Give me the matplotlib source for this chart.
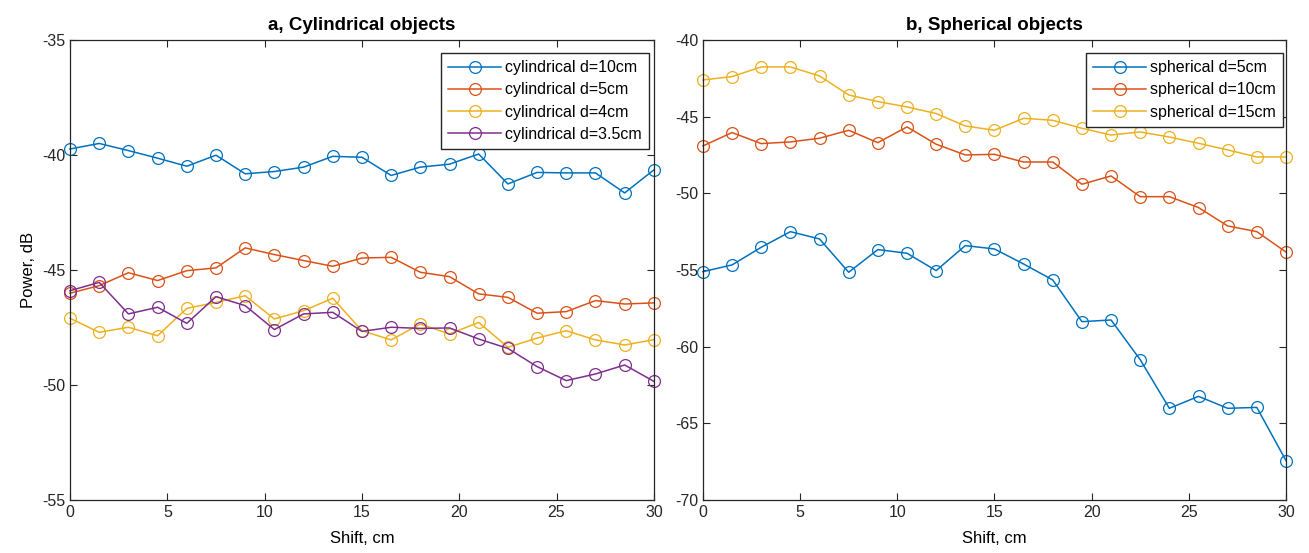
import matplotlib.pyplot as plt

plt.rcParams['font.family'] = ['Liberation Sans', 'DejaVu Sans']
plt.rcParams['axes.unicode_minus'] = False

shift = [0, 1.5, 3, 4.5, 6, 7.5, 9, 10.5, 12, 13.5, 15, 16.5, 18, 19.5, 21,
         22.5, 24, 25.5, 27, 28.5, 30]

# a, cylindrical objects
cyl_10 = [-39.74, -39.50, -39.81, -40.14, -40.49, -40.01, -40.82, -40.72, -40.53, -40.06,
          -40.10, -40.89, -40.53, -40.40, -39.96, -41.26, -40.76, -40.78, -40.78, -41.65, -40.65]
cyl_5 = [-46.01, -45.68, -45.12, -45.46, -45.03, -44.91, -44.04, -44.33, -44.59, -44.84,
         -44.48, -44.45, -45.10, -45.29, -46.04, -46.19, -46.88, -46.81, -46.33, -46.48, -46.43]
cyl_4 = [-47.10, -47.71, -47.49, -47.86, -46.67, -46.41, -46.12, -47.13, -46.77, -46.23,
         -47.64, -48.04, -47.35, -47.78, -47.28, -48.36, -47.96, -47.64, -48.04, -48.26, -48.03]
cyl_35 = [-45.90, -45.54, -46.91, -46.62, -47.32, -46.16, -46.55, -47.59, -46.91, -46.84,
          -47.67, -47.49, -47.54, -47.52, -48.00, -48.41, -49.20, -49.81, -49.52, -49.13, -49.84]

# b, spherical objects
sph_5 = [-55.11, -54.67, -53.52, -52.50, -52.98, -55.15, -53.67, -53.91, -55.04, -53.41,
         -53.63, -54.61, -55.65, -58.37, -58.26, -60.85, -64.02, -63.24, -64.02, -63.96, -67.43]
sph_10 = [-46.91, -46.04, -46.76, -46.65, -46.41, -45.89, -46.70, -45.67, -46.80, -47.50,
          -47.46, -47.96, -47.96, -49.41, -48.87, -50.22, -50.22, -50.93, -52.13, -52.50, -53.83]
sph_15 = [-42.61, -42.39, -41.76, -41.76, -42.35, -43.59, -44.02, -44.37, -44.80, -45.61,
          -45.89, -45.11, -45.24, -45.76, -46.20, -46.00, -46.33, -46.74, -47.17, -47.63, -47.63]

colors = ['#0072BD', '#D95319', '#EDB120', '#7E2F8E']
axcol = '#262626'

fig = plt.figure(figsize=(13.09, 5.53), dpi=100)
ax1 = fig.add_axes([0.0535, 0.0958, 0.446, 0.832])
ax2 = fig.add_axes([0.537, 0.0958, 0.4454, 0.832])

style = dict(marker='o', markerfacecolor='none', markersize=8.5, linewidth=1.1,
             markeredgewidth=0.9, clip_on=False)

ax1.plot(shift, cyl_10, color=colors[0], label='cylindrical d=10cm', **style)
ax1.plot(shift, cyl_5, color=colors[1], label='cylindrical d=5cm', **style)
ax1.plot(shift, cyl_4, color=colors[2], label='cylindrical d=4cm', **style)
ax1.plot(shift, cyl_35, color=colors[3], label='cylindrical d=3.5cm', **style)
ax1.set_ylim(-55, -35)
ax1.set_yticks([-55, -50, -45, -40, -35])
ax1.set_title('a, Cylindrical objects', fontweight='bold', fontsize=13.5, pad=7)
ax1.set_ylabel('Power, dB', fontsize=12, labelpad=4)

ax2.plot(shift, sph_5, color=colors[0], label='spherical d=5cm', **style)
ax2.plot(shift, sph_10, color=colors[1], label='spherical d=10cm', **style)
ax2.plot(shift, sph_15, color=colors[2], label='spherical d=15cm', **style)
ax2.set_ylim(-70, -40)
ax2.set_yticks([-70, -65, -60, -55, -50, -45, -40])
ax2.set_title('b, Spherical objects', fontweight='bold', fontsize=13.5, pad=7)

anchors = {ax1: (0.9914, 0.9717), ax2: (0.9949, 0.9717)}
for ax in (ax1, ax2):
    ax.set_xlim(0, 30)
    ax.set_xticks([0, 5, 10, 15, 20, 25, 30])
    ax.set_xlabel('Shift, cm', fontsize=12, labelpad=8)
    ax.tick_params(direction='in', top=True, right=True, labelsize=11.5, colors=axcol, length=5)
    for s in ax.spines.values():
        s.set_color(axcol)
        s.set_linewidth(0.9)
    leg = ax.legend(loc='upper right', bbox_to_anchor=anchors[ax], fontsize=11.5,
                    fancybox=False, framealpha=1, edgecolor=axcol, borderaxespad=0,
                    handlelength=3.3, labelspacing=0.45, borderpad=0.45, handletextpad=0.25)
    leg.get_frame().set_linewidth(1.0)
    leg.set_zorder(5)

fig.savefig('out.png', dpi=100)
